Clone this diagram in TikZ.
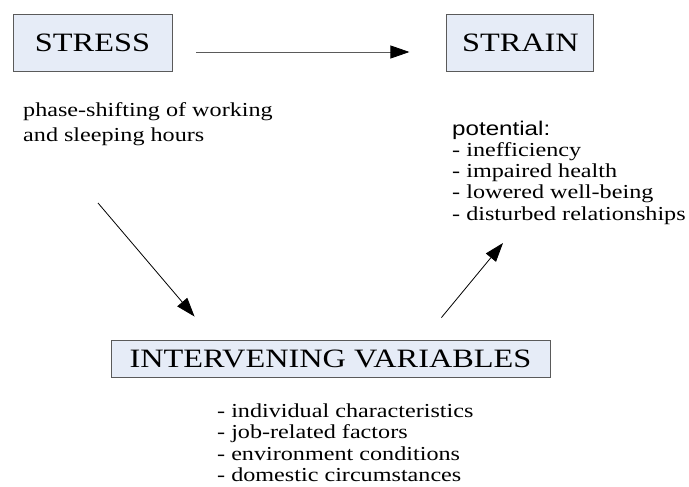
\documentclass[tikz,border=0pt]{standalone}
\usepackage{fontspec}
\setmainfont{Liberation Serif}[FakeStretch=1.22]
\newfontfamily\potfont{Liberation Sans}[FakeStretch=1.22]
\usetikzlibrary{arrows.meta,positioning}
\definecolor{boxfill}{HTML}{E6ECF7}
\definecolor{boxline}{HTML}{5A5A5A}
\begin{document}
\begin{tikzpicture}[x=1pt,y=-1pt,
                box/.style = {draw=boxline, fill=boxfill, line width=0.9pt, inner sep=0pt,
                              font=\fontsize{26.5}{30}\selectfont},
                note/.style = {inner sep=0pt, align=left, anchor=north west,
                               font=\fontsize{19.8}{21.3}\selectfont},
                arrow/.style = {-{Triangle[length=19pt,width=13pt,color=black]}, line width=0.8pt}]
                \useasboundingbox (0,0) rectangle (689,487);
                \node[box, minimum width=159pt, minimum height=57pt] (stress) at (92.5,42.5) {STRESS};
                \node[box, minimum width=147pt, minimum height=57pt] (strain) [right=274pt of stress] {STRAIN};
                \node[box, minimum width=439pt, minimum height=37pt] (vars) at (330.5,358.5) {INTERVENING VARIABLES};
                \node[note, font=\fontsize{19.8}{25}\selectfont] (cause) at (23,102) {phase-shifting of working\\and sleeping hours};
                \node[note] (effects) at (452,120.5) {{\potfont potential:}\\- inefficiency\\- impaired health\\- lowered well-being\\- disturbed relationships};
                \node[note] (factors) at (217,403.5) {- individual characteristics\\- job-related factors\\- environment conditions\\- domestic circumstances};
                \coordinate (c1) at (98,203);
                \coordinate (e1) at (503,243);
                \draw[arrow, boxline] ([shift={(24,9.5)}]stress.east) -- ([shift={(-37,9.5)}]strain.west);
                \draw[arrow] (c1) -- ([shift={(84,-23)}]vars.north west);
                \draw[arrow] ([shift={(-109,-22)}]vars.north east) -- (e1);
            \end{tikzpicture}
\end{document}
